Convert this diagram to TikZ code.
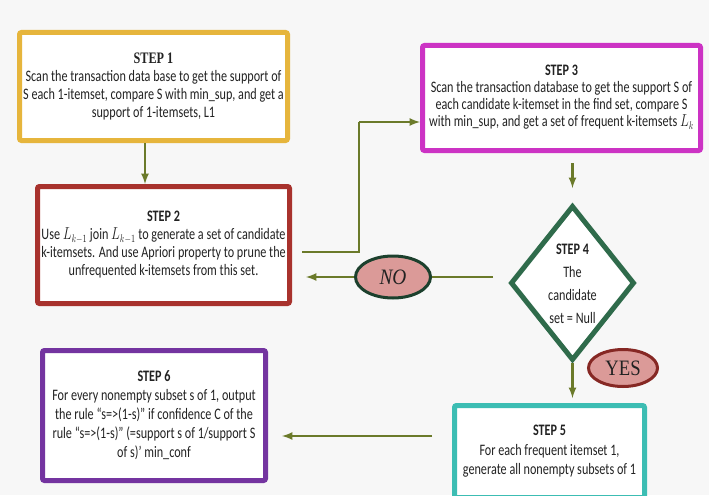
\documentclass[tikz,border=0pt]{standalone}
\usepackage{fontspec}
\usepackage{graphicx}
\setmainfont{Carlito}
\newfontfamily\stepserif{Liberation Serif}
\usetikzlibrary{shapes}
\usetikzlibrary{arrows}
\definecolor{gold}{HTML}{E6B53C}
\definecolor{brick}{HTML}{A8322D}
\definecolor{magen}{HTML}{CC33C4}
\definecolor{pine}{HTML}{2F6B4B}
\definecolor{teal}{HTML}{3CBDB3}
\definecolor{grape}{HTML}{7434A0}
\definecolor{olive}{HTML}{6B7A2A}
\definecolor{rose}{HTML}{DB9A98}
\definecolor{ink}{HTML}{222222}
\newcommand{\squeeze}[2][0.76]{\scalebox{#1}[1]{\begin{tabular}{@{}c@{}}#2\end{tabular}}}

\begin{document}
\begin{tikzpicture}[x=1pt,y=-1pt,
  stepbox/.style={draw,rectangle,rounded corners=2pt,line width=5pt,fill=white,
    align=center,text=ink,font=\fontsize{16}{18}\selectfont,inner sep=0pt},
  answer/.style={draw,ellipse,line width=3pt,fill=rose,text=ink,
    font=\stepserif\fontsize{22}{22}\selectfont,inner sep=0pt},
  flow/.style={draw=olive,line width=2.5pt,-latex}]
\useasboundingbox[fill=black!3] (0,0) rectangle (709,495);
\node[stepbox,draw=gold,minimum width=268pt,minimum height=108pt] (S1)at(153.5,86.5)
  {\squeeze{{\stepserif\bfseries STEP 1}\\Scan the transaction data base to get the support of\\S each 1-itemset, compare S with min\_sup, and get a\\support of 1-itemsets, L1}};
\node[stepbox,draw=brick,minimum width=252pt,minimum height=117pt] (S2)at(163.5,245)
  {\squeeze{\textbf{STEP 2}\\Use $L_{k-1}$ join $L_{k-1}$ to generate a set of candidate\\k-itemsets. And use Apriori property to prune the\\unfrequented k-itemsets from this set.}};
\node[stepbox,draw=magen,minimum width=278pt,minimum height=105pt,font=\fontsize{16}{17}\selectfont] (S3)at(561.5,98)
  {\squeeze{\textbf{STEP 3}\\Scan the transaction database to get the support S of\\each candidate k-itemset in the find set, compare S\\with min\_sup, and get a set of frequent k-itemsets $L_k$}};
\node[draw=pine,diamond,line width=5pt,fill=white,minimum width=124pt,minimum height=155pt,
  inner sep=0pt,text=ink,font=\fontsize{16}{23}\selectfont] (S4)at(572.5,283)
  {\smash{\makebox[0pt]{\raisebox{-6pt}{\squeeze{\textbf{STEP 4}\\The\\candidate\\set = Null}}}}};
\node[stepbox,draw=teal,minimum width=190pt,minimum height=92pt,font=\fontsize{16}{19.5}\selectfont] (S5)at(549.5,451.5)
  {\squeeze{\textbf{STEP 5}\\For each frequent itemset 1,\\generate all nonempty subsets of 1}};
\node[stepbox,draw=grape,minimum width=223pt,minimum height=130pt,font=\fontsize{16}{19}\selectfont] (S6)at(154,415.5)
  {\squeeze{\textbf{STEP 6}\\For every nonempty subset s of 1, output\\the rule ``s=>(1-s)'' if confidence C of the\\rule ``s=>(1-s)'' (=support s of 1/support S\\of s)' min\_conf}};
\node[answer,draw=pine!60!black,minimum width=75pt,minimum height=42pt] (NO)at(393,277) {\scalebox{0.88}[1]{\itshape NO}};
\node[answer,draw=brick!80!black,minimum width=69pt,minimum height=37pt] (YES)at(623,368) {\scalebox{0.85}[1]{YES}};
% connectors
\draw[flow] ([xshift=-8.5pt]S1.south) -- ([xshift=-8.5pt]S1.south |- S2.north);
\draw[flow,-] ([shift={(10,7)}]S2.east) -- ++(57,0) |- (359,122);
\draw[flow] (359,122) -- ([shift={(0,24)}]S3.west);
\draw[flow,shorten <=10pt,shorten >=15pt] (S3.south -| S4.north) -- (S4.north);
\draw[flow,-,shorten <=15pt] (S4.west |- NO.east) -- (NO.east);
\draw[flow,shorten >=14pt] (NO.west) -- (NO.west -| S2.east);
\draw[flow,shorten >=5pt] (S4.south) -- (S4.south |- S5.north);
\draw[flow,shorten <=20pt,shorten >=14pt] ([yshift=15.5pt]S5.west) -- ([yshift=15.5pt]S5.west -| S6.east);
\end{tikzpicture}
\end{document}
